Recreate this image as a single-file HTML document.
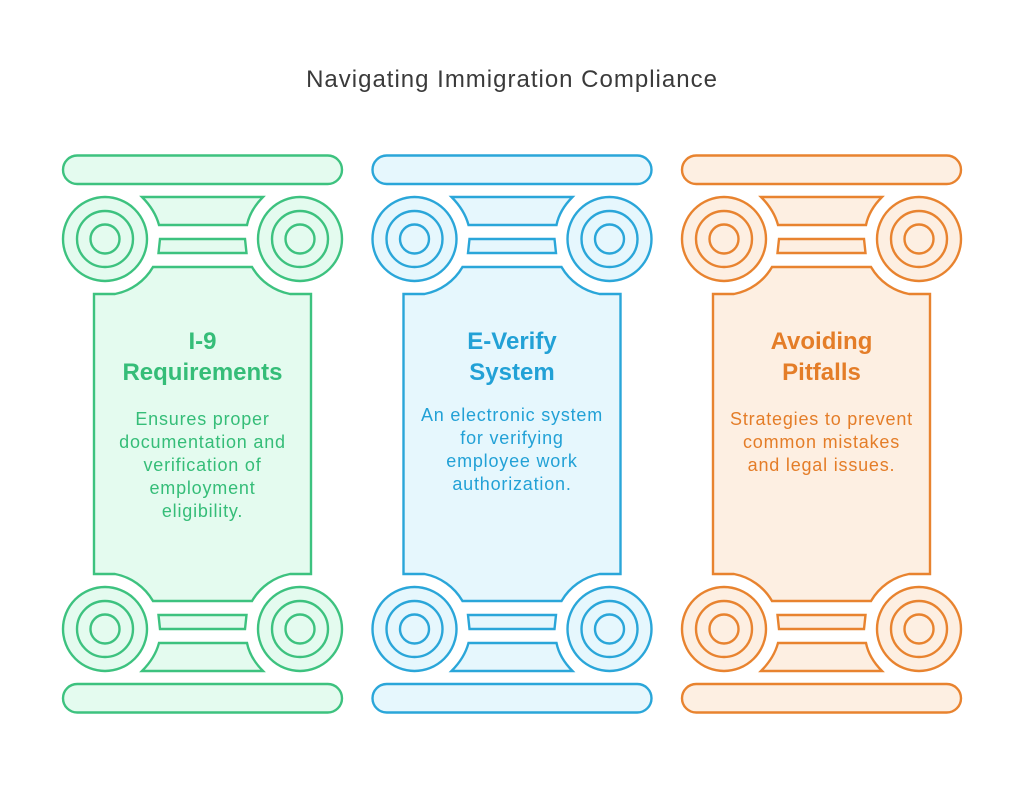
<!DOCTYPE html>
<html><head><meta charset="utf-8"><style>
html,body{margin:0;padding:0;background:#fff;}
svg{display:block;}
text{font-family:"Liberation Sans",sans-serif;text-anchor:middle;}
.d{font-size:18px;letter-spacing:0.8px;}
.h{font-size:24px;font-weight:bold;}
</style></head><body>
<svg width="1024" height="807" viewBox="0 0 1024 807" xmlns="http://www.w3.org/2000/svg">
<defs>
<g id="half">
  <rect x="63" y="155.5" width="279" height="28.5" rx="14.25"/>
  <circle cx="105" cy="239" r="42"/>
  <circle cx="105" cy="239" r="28"/>
  <circle cx="105" cy="239" r="14.5"/>
  <circle cx="300" cy="239" r="42"/>
  <circle cx="300" cy="239" r="28"/>
  <circle cx="300" cy="239" r="14.5"/>
  <path d="M142,197 L263,197 Q250,210 247,225 L159,225 Q155,210 142,197 Z"/>
  <path d="M160,239 L245,239 L246.5,253 L158.5,253 Z"/>
</g>
<g id="pillar">
  <use href="#half"/>
  <use href="#half" transform="translate(0,868) scale(1,-1)"/>
  <path d="M94,294 L115,294 A56,56 0 0 0 153,267 L252,267 A56,56 0 0 0 290,294 L311,294 L311,574 L290,574 A56,56 0 0 0 252,601 L153,601 A56,56 0 0 0 115,574 L94,574 Z"/>
</g>
</defs>
<text x="512" y="87" font-size="24" letter-spacing="1" fill="#3a3a3a">Navigating Immigration Compliance</text>

<g fill="#e4fbef" stroke="#3dc27f" stroke-width="2.4">
  <use href="#pillar"/>
</g>
<g fill="#e6f7fd" stroke="#2aa6d9" stroke-width="2.4" transform="translate(309.5,0)">
  <use href="#pillar"/>
</g>
<g fill="#fdefe2" stroke="#e8832f" stroke-width="2.4" transform="translate(619,0)">
  <use href="#pillar"/>
</g>

<g fill="#35bd78">
  <text class="h" x="202.5" y="349">I-9</text>
  <text class="h" x="202.5" y="380">Requirements</text>
  <text class="d" x="202.5" y="425">Ensures proper</text>
  <text class="d" x="202.5" y="448">documentation and</text>
  <text class="d" x="202.5" y="471">verification of</text>
  <text class="d" x="202.5" y="494">employment</text>
  <text class="d" x="202.5" y="517">eligibility.</text>
</g>
<g fill="#22a1d6">
  <text class="h" x="512" y="349">E-Verify</text>
  <text class="h" x="512" y="380">System</text>
  <text class="d" x="512" y="421">An electronic system</text>
  <text class="d" x="512" y="444">for verifying</text>
  <text class="d" x="512" y="467">employee work</text>
  <text class="d" x="512" y="490">authorization.</text>
</g>
<g fill="#e47d28">
  <text class="h" x="821.5" y="349">Avoiding</text>
  <text class="h" x="821.5" y="380">Pitfalls</text>
  <text class="d" x="821.5" y="425">Strategies to prevent</text>
  <text class="d" x="821.5" y="448">common mistakes</text>
  <text class="d" x="821.5" y="471">and legal issues.</text>
</g>
</svg>
</body></html>
